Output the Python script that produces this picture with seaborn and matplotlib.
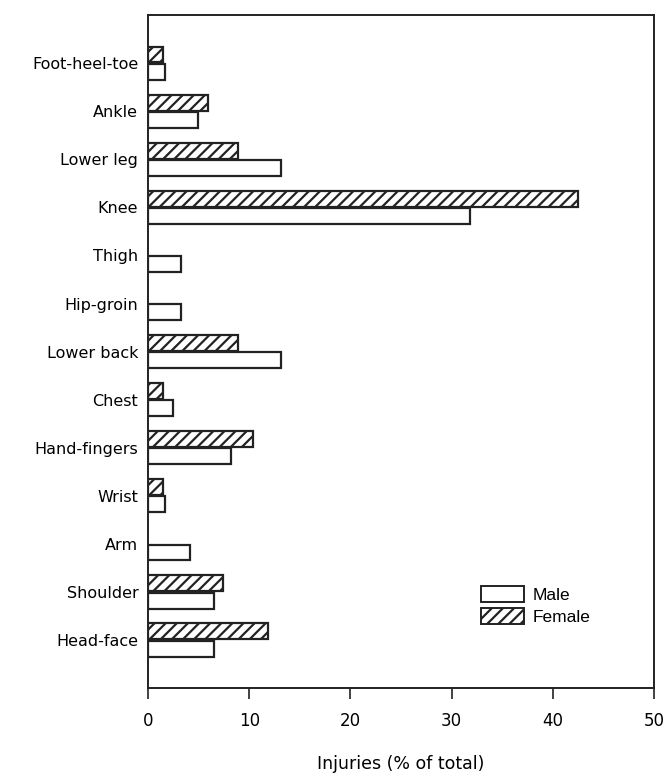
import numpy as np
import pandas as pd
import matplotlib
matplotlib.use("Agg")
import matplotlib.pyplot as plt
import seaborn as sns
from matplotlib.patches import Patch

# Injury locations, top to bottom as in the figure
regions = ['Foot-heel-toe', 'Ankle', 'Lower leg', 'Knee', 'Thigh', 'Hip-groin',
           'Lower back', 'Chest', 'Hand-fingers', 'Wrist', 'Arm', 'Shoulder',
           'Head-face']
# Injuries (% of total)
male = [1.7, 4.9, 13.1, 31.8, 3.3, 3.3, 13.1, 2.5, 8.2, 1.7, 4.1, 6.5, 6.5]
female = [1.5, 5.9, 8.9, 42.5, np.nan, np.nan, 8.9, 1.5, 10.4, 1.5, np.nan, 7.4, 11.9]

df = pd.DataFrame({
    'Region': regions * 2,
    'Percent': male + female,
    'Sex': ['Male'] * len(regions) + ['Female'] * len(regions),
})

sns.set_style('white')
plt.rcParams['font.family'] = ['DejaVu Sans']
plt.rcParams['text.color'] = 'black'
plt.rcParams['hatch.linewidth'] = 1.6
plt.rcParams['hatch.color'] = '#222222'

fig = plt.figure(figsize=(6.67, 7.74), dpi=100)
ax = fig.add_axes([0.222, 0.111, 0.7585, 0.8695])

sns.barplot(data=df, x='Percent', y='Region', hue='Sex', hue_order=['Female', 'Male'],
            order=regions, orient='h', width=0.72, gap=0.08,
            palette={'Female': 'white', 'Male': 'white'},
            edgecolor='#222222', linewidth=1.6, legend=False, ax=ax)

# hatch the female bars
for bar in ax.containers[0]:
    bar.set_hatch('///')

ax.set_xlim(0, 50)
ax.set_ylim(13, -1)
ax.set_xticks([0, 10, 20, 30, 40, 50])
ax.tick_params(axis='x', bottom=True, direction='out', length=8, width=1.2,
               color='#222222', labelcolor='black', labelsize=12, pad=9)
ax.tick_params(axis='y', left=False, length=0, labelcolor='black', labelsize=11.5, pad=7)
for s in ax.spines.values():
    s.set_color('#222222')
    s.set_linewidth(1.4)
    s.set_visible(True)

ax.set_xlabel('Injuries (% of total)', fontsize=12.5, labelpad=18, color='black')
ax.set_ylabel('')

handles = [Patch(facecolor='white', edgecolor='#222222', linewidth=1.4, label='Male'),
           Patch(facecolor='white', edgecolor='#222222', linewidth=1.4, hatch='///',
                 label='Female')]
leg = ax.legend(handles=handles, loc='upper left', bbox_to_anchor=(0.697, 0.263),
                bbox_transform=fig.transFigure, frameon=False, handlelength=2.5,
                handleheight=1.0, handletextpad=0.5, labelspacing=0.3,
                prop={'family': 'Liberation Sans', 'size': 12.5})
for t in leg.get_texts():
    t.set_color('black')

fig.savefig('out.png', dpi=100)
